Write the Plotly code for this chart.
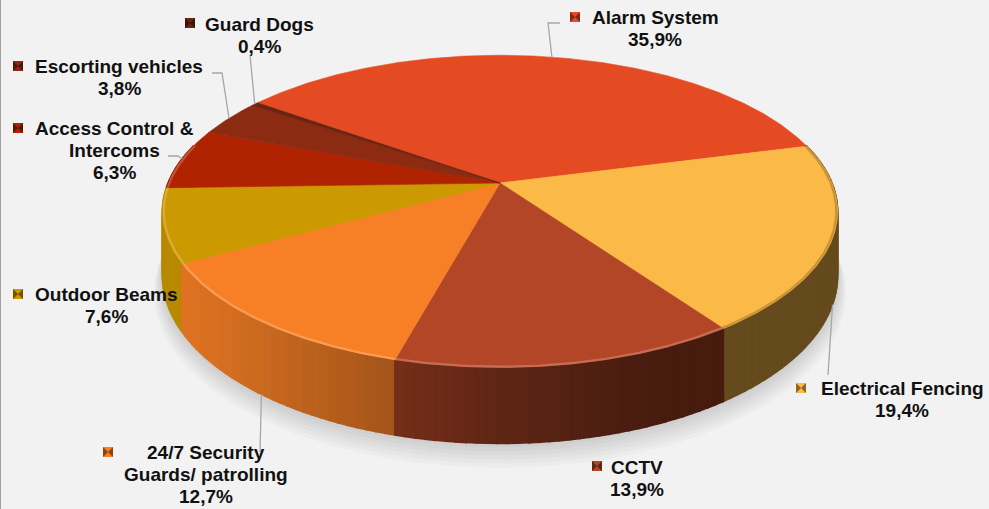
import numpy as np
import plotly.graph_objects as go

# ---- data ----
categories = ["Alarm System", "Electrical Fencing", "CCTV",
              "24/7 Security Guards/ patrolling", "Outdoor Beams",
              "Access Control & Intercoms", "Escorting vehicles", "Guard Dogs"]
shares = [35.9, 19.4, 13.9, 12.7, 7.6, 6.3, 3.8, 0.4]
label_lines = [["Alarm System"], ["Electrical Fencing"], ["CCTV"],
               ["24/7 Security", "Guards/ patrolling"], ["Outdoor Beams"],
               ["Access Control &", "Intercoms"], ["Escorting vehicles"], ["Guard Dogs"]]

# ---- styling ----
colors = [(229, 75, 34), (251, 185, 71), (178, 70, 38), (247, 128, 38),
          (204, 153, 0), (175, 35, 0), (140, 42, 18), (107, 36, 16)]

# label anchor (centre x, first-line centre y), legend keys, leader waypoints (pixels)
label_pos = [(655, 17), (902, 388), (637, 467), (206, 452),
             (106, 294), (114, 128), (119, 66), (259, 24)]
LINE_STEP = 22.3
key_pos = [(575, 17), (801, 388), (597, 466), (108, 452),
           (18, 294), (18, 128), (18, 66), (190, 23)]
leader_way = {0: [(548, 23), (560, 23)],
              1: [(828, 375)],
              3: [(260, 452)],
              5: [(178, 156), (168, 156)],
              6: [(222, 73), (212, 73)],
              7: [(250, 55)]}
leader_drop = {1: True, 3: True}

W, H = 989, 509
CX, CY = 500.0, 183.0      # apex of the slices
A, B = 332.0, 151.0        # horizontal / vertical radius of the top face
P = 0.182                  # perspective strength
DEPTH = 62.0               # thickness of the disc
START = 216.0              # angle where the first slice starts (deg, clockwise)


def proj(theta_deg, r=1.0, drop=0.0):
    t = np.radians(theta_deg)
    u = r * np.cos(t)
    v = r * np.sin(t)
    w = 1 - P * v
    return CX + A * u / w, CY + B * v / w + drop / w


def rgb(c, a=None):
    c = tuple(int(max(0, min(255, round(x)))) for x in c)
    if a is None:
        return "rgb(%d,%d,%d)" % c
    return "rgba(%d,%d,%d,%.3f)" % (c + (a,))


def scale(c, f):
    return tuple(x * f for x in c)


def mix(c, other, f):
    return tuple(x * (1 - f) + o * f for x, o in zip(c, other))


def side_shade(theta):
    k = max(0.0, np.cos(np.radians(theta - 155)))
    return 0.4 + 0.5 * k ** 1.5


fig = go.Figure()

# slice angle ranges
bounds = []
a = START - 360
for s in shares:
    b = a + s / 100 * 360
    bounds.append((a, b))
    a = b

# soft shadow under the disc
full = np.linspace(0, 360, 241)
for k in range(6, 0, -1):
    xs, ys = proj(full, r=1 + 0.004 * k, drop=DEPTH + 2.5 * k)
    fig.add_trace(go.Scatter(x=xs, y=ys, mode="lines", fill="toself",
                             fillcolor="rgba(0,0,0,0.025)", line=dict(width=0),
                             hoverinfo="skip"))

# outer side of the disc, drawn as shaded strips (back to front)
strips = []
for i, (a0, a1) in enumerate(bounds):
    lo, hi = max(a0, -15), min(a1, 195)
    if hi <= lo:
        continue
    n = max(1, int(np.ceil((hi - lo) / 1.5)))
    edges = np.linspace(lo, hi, n + 1)
    for t0, t1 in zip(edges[:-1], edges[1:]):
        strips.append((np.sin(np.radians((t0 + t1) / 2)), i, t0, t1))
strips.sort()
for _, i, t0, t1 in strips:
    ts = np.linspace(t0, t1, 3)
    xt, yt = proj(ts)
    xb, yb = proj(ts[::-1], drop=DEPTH)
    col = rgb(scale(colors[i], side_shade((t0 + t1) / 2)))
    fig.add_trace(go.Scatter(x=np.r_[xt, xb, xt[0]], y=np.r_[yt, yb, yt[0]],
                             mode="lines", fill="toself", fillcolor=col,
                             line=dict(width=1.6, color=col), hoverinfo="skip"))

# top faces of the slices
for i, (a0, a1) in enumerate(bounds):
    ts = np.linspace(a0, a1, max(3, int((a1 - a0) / 0.5) + 2))
    xs, ys = proj(ts)
    col = rgb(colors[i])
    fig.add_trace(go.Scatter(x=np.r_[CX, xs, CX], y=np.r_[CY, ys, CY],
                             mode="lines", fill="toself", fillcolor=col,
                             line=dict(width=0.6, color=col), hoverinfo="skip"))

# bevel highlight along the front rim
for i, (a0, a1) in enumerate(bounds):
    lo, hi = max(a0, -15), min(a1, 195)
    if hi <= lo:
        continue
    ts = np.linspace(lo, hi, max(3, int((hi - lo) / 0.5) + 2))
    xs, ys = proj(ts, r=0.996)
    mid = (lo + hi) / 2
    if mid > 70:
        col = mix(colors[i], (255, 255, 255), 0.22)
    else:
        col = scale(colors[i], 0.8)
    fig.add_trace(go.Scatter(x=xs, y=ys, mode="lines",
                             line=dict(width=2.2, color=rgb(col)), hoverinfo="skip"))

# leader lines
for i, way in leader_way.items():
    a0, a1 = bounds[i]
    px, py = proj((a0 + a1) / 2, drop=DEPTH if leader_drop.get(i) else 0.0)
    xs = [px] + [p[0] for p in way]
    ys = [py] + [p[1] for p in way]
    fig.add_trace(go.Scatter(x=xs, y=ys, mode="lines",
                             line=dict(width=1.3, color="#A6A6A6"), hoverinfo="skip"))

# legend keys beside the data labels
for i, (kx, ky) in enumerate(key_pos):
    fig.add_trace(go.Scatter(x=[kx], y=[ky], mode="markers",
                             marker=dict(symbol="square", size=10, color=rgb(colors[i]),
                                         line=dict(width=0)), hoverinfo="skip"))
    fig.add_trace(go.Scatter(x=[kx], y=[ky], mode="markers",
                             marker=dict(symbol="bowtie", size=10,
                                         color=rgb(scale(colors[i], 0.55)),
                                         line=dict(width=0)), hoverinfo="skip"))

# data labels: category lines followed by the share, one text per line
for i, lines in enumerate(label_lines):
    pct = ("%.1f" % shares[i]).replace(".", ",") + "%"
    lx, ly = label_pos[i]
    for j, line in enumerate(lines + [pct]):
        fig.add_annotation(x=lx, y=ly + j * LINE_STEP, xref="x", yref="y",
                           text="<b>%s</b>" % line, showarrow=False,
                           xanchor="center", yanchor="middle", align="center",
                           font=dict(family="Liberation Sans, Arial, sans-serif",
                                     size=19, color="#111111"), borderpad=0)

fig.add_shape(type="line", xref="paper", yref="paper", x0=0, x1=0, y0=0, y1=1,
              line=dict(color="#A0A0A0", width=2))

fig.update_layout(
    width=W, height=H, margin=dict(l=0, r=0, t=0, b=0),
    paper_bgcolor="#F2F2F2", plot_bgcolor="#F2F2F2",
    showlegend=False, hovermode=False,
    xaxis=dict(range=[0, W], visible=False, fixedrange=True),
    yaxis=dict(range=[H, 0], visible=False, fixedrange=True),
)

fig.write_html("out.html")
